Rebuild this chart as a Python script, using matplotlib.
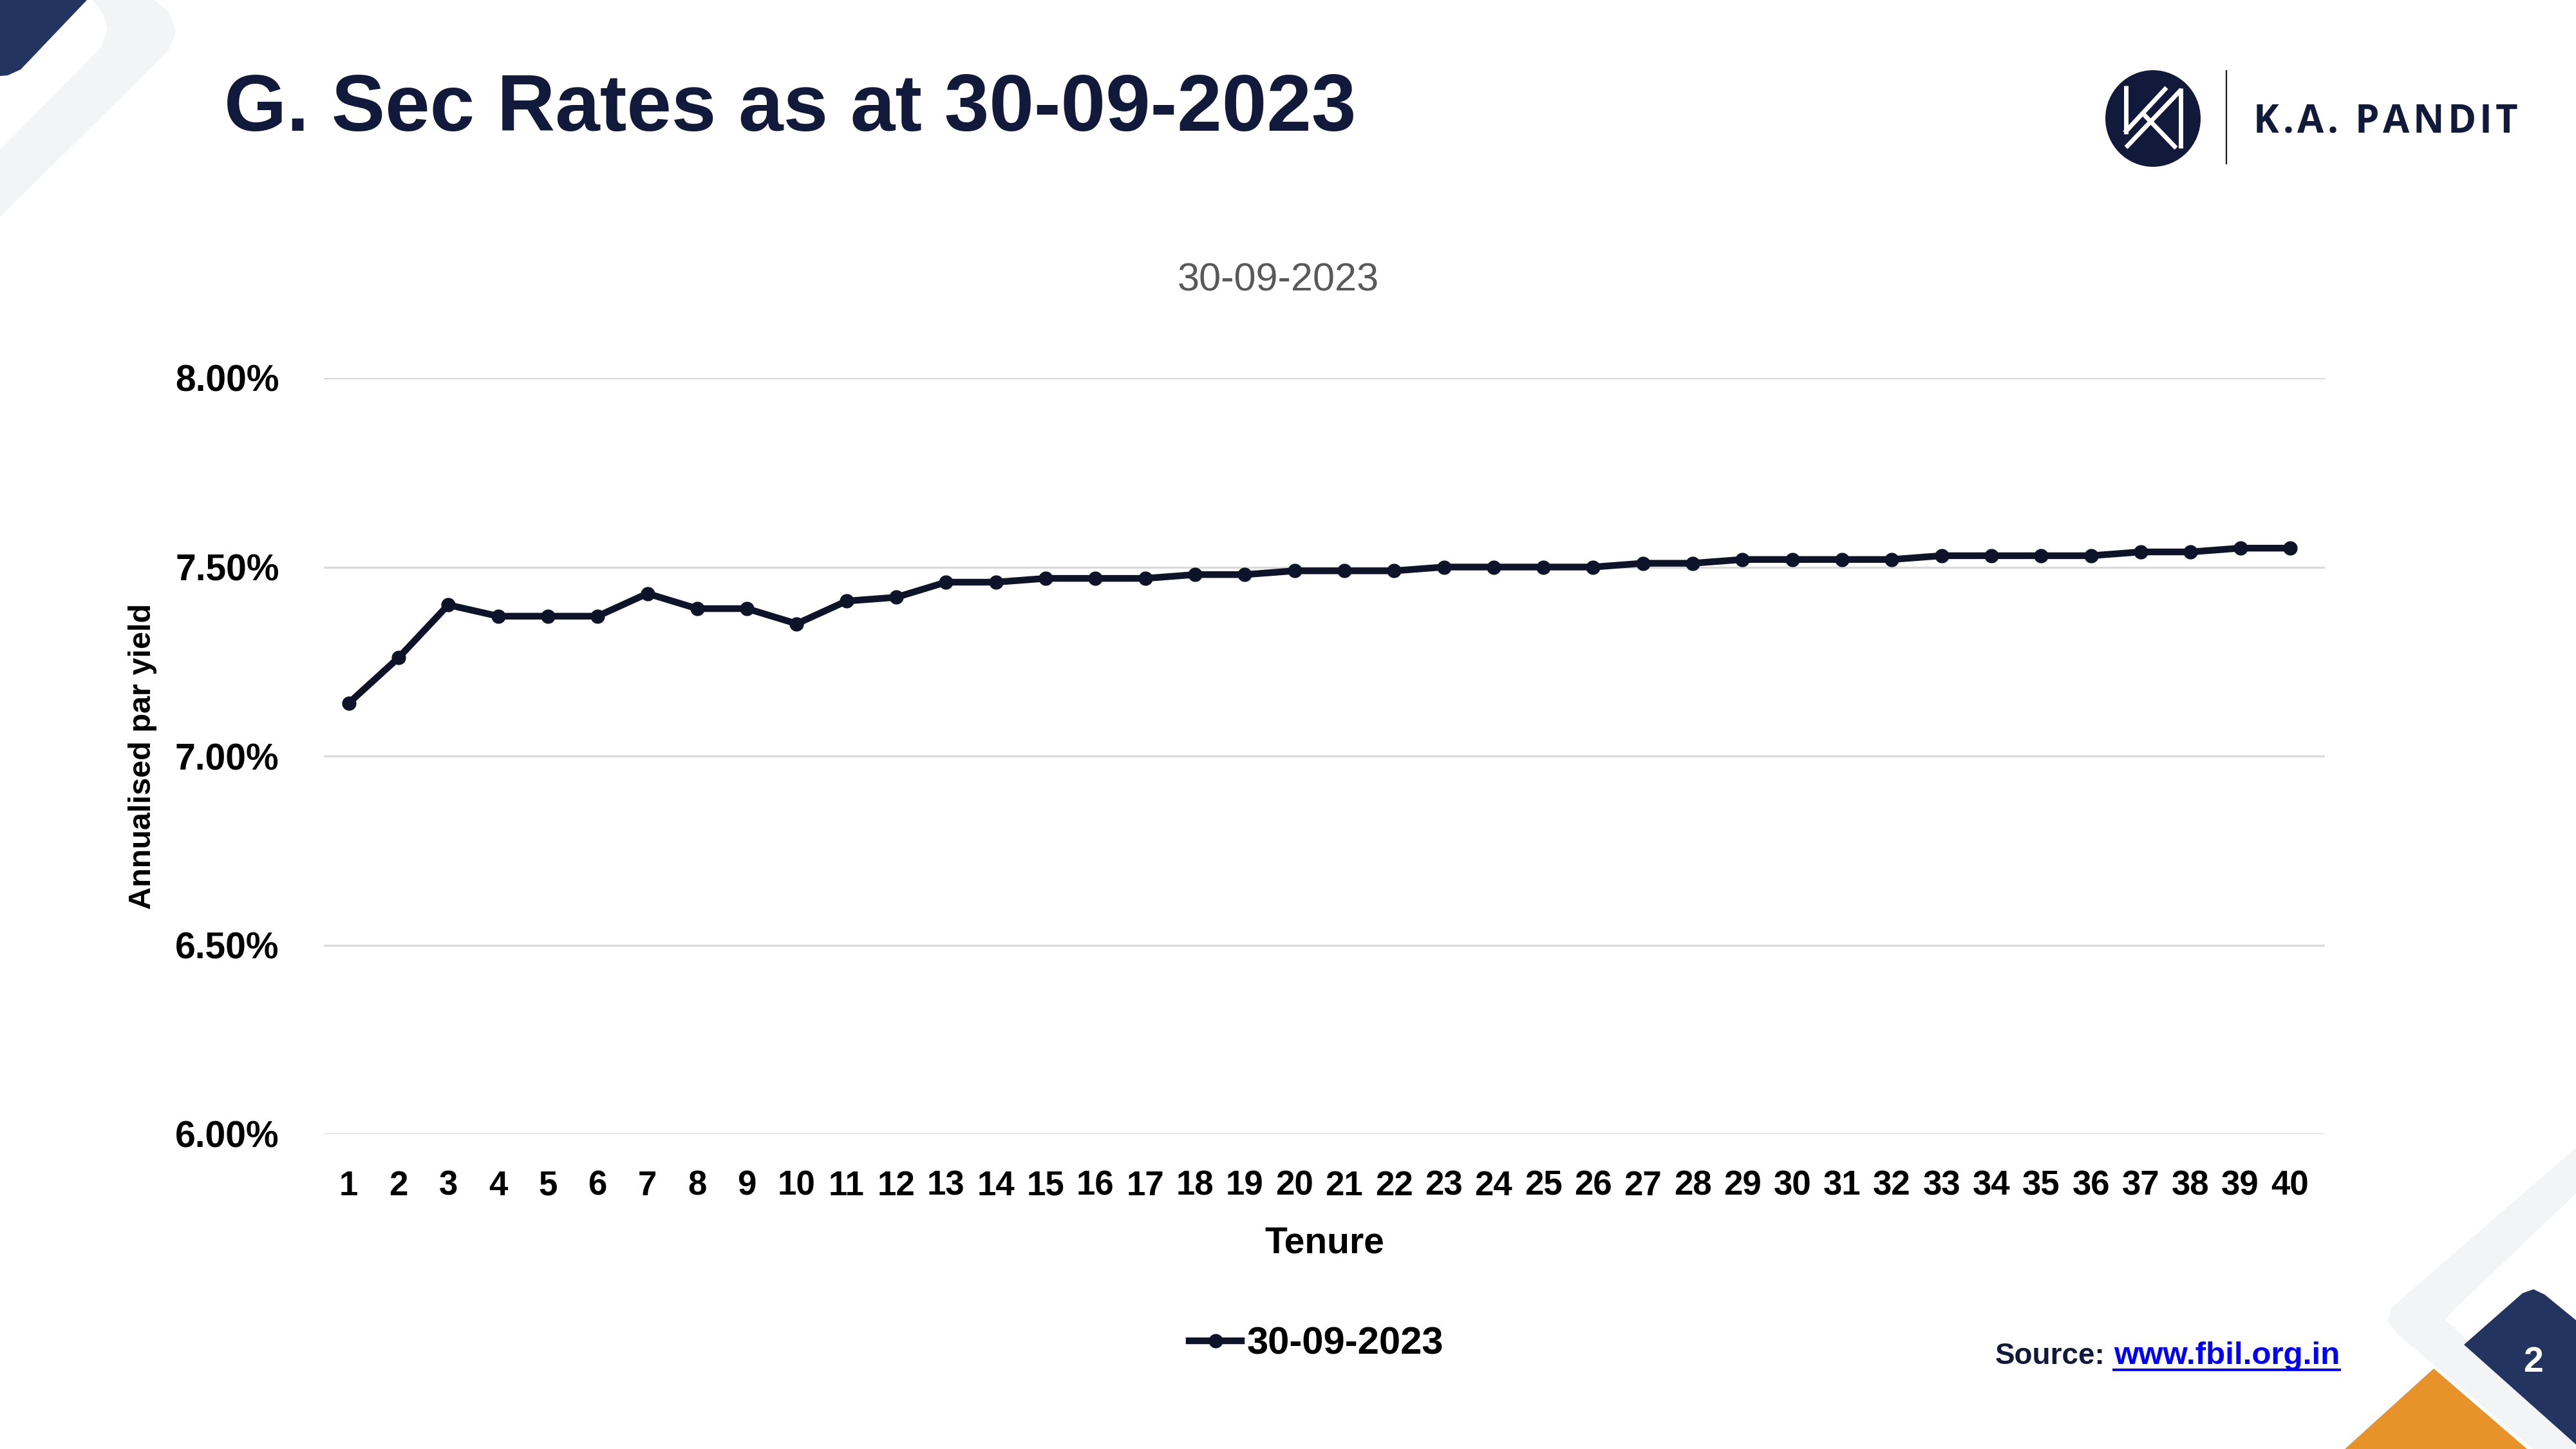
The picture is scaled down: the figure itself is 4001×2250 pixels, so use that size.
import matplotlib
matplotlib.use('Agg')
import matplotlib.pyplot as plt
from matplotlib.patches import Polygon, Ellipse
from matplotlib.lines import Line2D

# chart data
tenure = list(range(1, 41))
yield_pct = [7.14, 7.26, 7.40, 7.37, 7.37, 7.37, 7.43, 7.39, 7.39, 7.35,
             7.41, 7.42, 7.46, 7.46, 7.47, 7.47, 7.47, 7.48, 7.48, 7.49,
             7.49, 7.49, 7.50, 7.50, 7.50, 7.50, 7.51, 7.51, 7.52, 7.52,
             7.52, 7.52, 7.53, 7.53, 7.53, 7.53, 7.54, 7.54, 7.55, 7.55]
y_ticks = [6.0, 6.5, 7.0, 7.5, 8.0]
series_name = '30-09-2023'
title = 'G. Sec Rates as at 30-09-2023'

W, H = 4001, 2250
NAVY = '#111A3A'
DECO_NAVY = '#22345F'
DECO_GREY = '#F3F4F6'
ORANGE = '#E8922A'
LINE = '#0D1329'

plt.rcParams['font.family'] = ['Liberation Sans', 'DejaVu Sans']

def fx(x):
    return x / W

def fy(y):
    return 1 - y / H

def poly(pts, color):
    # pixel coords measured from the top left corner
    p = Polygon([(fx(a), fy(b)) for a, b in pts], closed=True, transform=fig.transFigure,
                facecolor=color, edgecolor='none', zorder=0)
    fig.add_artist(p)

fig = plt.figure(figsize=(W / 100, H / 100), dpi=100)
fig.patch.set_facecolor('white')

# slide decoration, top left
poly([(143, 0), (240, 0), (262, 18), (273, 50), (262, 78), (0, 337), (0, 233),
      (158, 72), (167, 45), (160, 20)], DECO_GREY)
poly([(0, 0), (135, 0), (32, 108), (12, 117), (0, 118)], DECO_NAVY)

# slide decoration, bottom right
poly([(3780, 2125), (3642, 2250), (3925, 2250)], ORANGE)
poly([(4001, 1782), (3715, 2030), (3709, 2052), (3722, 2070), (3935, 2250), (4001, 2250),
      (4001, 2243), (3815, 2065), (3798, 2050), (3810, 2035), (4001, 1853)], DECO_GREY)
poly([(3827, 2088), (3918, 2008), (3935, 2002), (3952, 2010), (4001, 2050),
      (4001, 2243)], DECO_NAVY)
fig.text(fx(3935), fy(2130), '2', color='white', fontsize=40, fontweight='bold',
         ha='center', va='baseline')

# logo
fig.add_artist(Ellipse((fx(3344), fy(184)), 148 / W, 150 / H, transform=fig.transFigure,
                       facecolor=NAVY, edgecolor='none'))
for (x0, y0), (x1, y1) in [((3302, 133), (3302, 208)), ((3300, 206), (3365, 136)),
                           ((3330, 178), (3380, 230)), ((3302, 229), (3388, 139)),
                           ((3387, 137), (3387, 230))]:
    fig.add_artist(Line2D([fx(x0), fx(x1)], [fy(y0), fy(y1)], transform=fig.transFigure,
                          color='white', lw=5, solid_capstyle='butt'))
fig.add_artist(Line2D([fx(3458), fx(3458)], [fy(110), fy(254)], transform=fig.transFigure,
                      color=NAVY, lw=1.6))

# title and subtitle
fig.text(fx(348), fy(203), title, fontsize=90, fontweight='bold', color=NAVY,
         ha='left', va='baseline')
fig.text(fx(1985), fy(452), series_name, fontsize=44, color='#595959',
         ha='center', va='baseline')

# chart
ax = fig.add_axes([fx(503), fy(1761), (3611 - 503) / W, (1761 - 587) / H])
ax.patch.set_alpha(0)
ax.plot(tenure, yield_pct, color=LINE, lw=7.5, marker='o', ms=15, label=series_name,
        zorder=3)
ax.set_ylim(y_ticks[0], y_ticks[-1])
ax.set_xlim(0.5, 40.7)
ax.set_yticks(y_ticks)
ax.set_yticklabels(['{:.2f}%'.format(v) for v in y_ticks])
ax.set_xticks(tenure)
ax.set_xticklabels([str(t) for t in tenure])
ax.yaxis.grid(True, color='#D9D9D9', lw=2.2)
ax.set_axisbelow(True)
for s in ax.spines.values():
    s.set_visible(False)
ax.tick_params(axis='y', length=0, pad=50, labelsize=41)
ax.tick_params(axis='x', length=0, pad=40, labelsize=38)
for lab in ax.get_xticklabels() + ax.get_yticklabels():
    lab.set_fontweight('bold')
    lab.set_color('black')

ax.set_xlabel('Tenure', fontsize=41, fontweight='bold', va='baseline')
ax.xaxis.set_label_coords(0.5, (1761 - 1945) / 1174)
ax.set_ylabel('Annualised par yield', fontsize=35, fontweight='bold', va='center')
ax.yaxis.set_label_coords((221 - 503) / 3108, 0.5)

fig.legend(loc='center', bbox_to_anchor=(fx(2045), fy(2087)), frameon=False,
           prop={'weight': 'bold', 'size': 43}, handlelength=1.35, handletextpad=0.15)

# source line
fig.text(fx(3099), fy(2118), 'Source:', fontsize=33, fontweight='bold', color=NAVY,
         ha='left', va='baseline')
link = fig.text(fx(3634), fy(2118), 'www.fbil.org.in', fontsize=35.5, fontweight='bold',
                color='#0000FF', ha='right', va='baseline')

# logo lettering with wide tracking
fig.canvas.draw()
r = fig.canvas.get_renderer()
letters = 'K.A. PANDIT'
parts = []
for ch in letters:
    t = fig.text(0, fy(206), ch, fontsize=43, color=NAVY, family=['Open Sans', 'DejaVu Sans'],
                 fontweight='bold', ha='left', va='baseline')
    parts.append(t)
widths = []
for ch, t in zip(letters, parts):
    if ch == ' ':
        widths.append(16)
    else:
        widths.append(t.get_window_extent(renderer=r).width)
track = (411 - sum(widths)) / (len(letters) - 1)
x = 3500
for w, t in zip(widths, parts):
    t.set_x(fx(x))
    x += w + track

bb = link.get_window_extent(renderer=r)
fig.add_artist(Line2D([bb.x0 / W, bb.x1 / W], [fy(2127), fy(2127)], transform=fig.transFigure,
                      color='#0000FF', lw=2.8))

fig.savefig('out.png', dpi=100, facecolor='white')
